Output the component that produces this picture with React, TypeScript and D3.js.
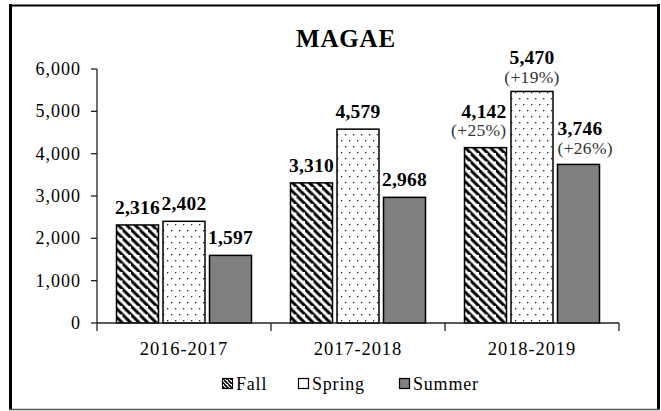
import React from "react";
import * as d3 from "d3";

const categories = ["2016-2017", "2017-2018", "2018-2019"];
const seriesNames = ["Fall", "Spring", "Summer"];
const fallValues = [2316, 3310, 4142];
const springValues = [2402, 4579, 5470];
const summerValues = [1597, 2968, 3746];
const fallPct = [null, null, "(+25%)"];
const springPct = [null, null, "(+19%)"];
const summerPct = [null, null, "(+26%)"];
const yTicks = [0, 1000, 2000, 3000, 4000, 5000, 6000];
const title = "MAGAE";

const FONT = "'Liberation Serif', 'Times New Roman', serif";

export default function App() {
  const W = 661, H = 411;
  const left = 97, right = 619, top = 69, bottom = 323;
  const x0 = d3.scaleBand<string>().domain(categories).range([left, right]).padding(0);
  const bw = x0.bandwidth();
  const x1 = d3.scaleBand<string>().domain(seriesNames)
    .range([bw / 2 - 67.5, bw / 2 + 67.5]).paddingInner(0.097).paddingOuter(0);
  const y = d3.scaleLinear().domain([0, 6000]).range([bottom, top]);
  const fmt = d3.format(",");

  const series = [
    { name: "Fall", values: fallValues, pct: fallPct, fill: "url(#hatch)" },
    { name: "Spring", values: springValues, pct: springPct, fill: "url(#dots)" },
    { name: "Summer", values: summerValues, pct: summerPct, fill: "#808080" },
  ];

  return (
    <svg width={W} height={H} style={{ position: "absolute", left: 0, top: 0 }} fontFamily={FONT}>
      <defs>
        <pattern id="hatch" patternUnits="userSpaceOnUse" width="8.5" height="8.5">
          <rect width="8.5" height="8.5" fill="white" />
          <path d="M-2,-2 L10.5,10.5 M-6.25,2.25 L2.25,10.75 M6.25,-6.25 L14.75,2.25" stroke="black" strokeWidth="2.9" />
        </pattern>
        <pattern id="dots" patternUnits="userSpaceOnUse" width="8" height="12">
          <rect width="8" height="12" fill="white" />
          <rect x="2" y="2" width="1.3" height="1.3" fill="#222" />
          <rect x="6" y="8" width="1.3" height="1.3" fill="#222" />
        </pattern>
        <pattern id="hatchSmall" patternUnits="userSpaceOnUse" width="4" height="4">
          <rect width="4" height="4" fill="white" />
          <path d="M-1,-1 L5,5 M-3,1 L1,5 M3,-3 L7,1" stroke="black" strokeWidth="1.7" />
        </pattern>
      </defs>
      <rect x={0} y={0} width={W} height={H} fill="white" />
      {/* frame */}
      <line x1={10.5} y1={4} x2={10.5} y2={410} stroke="black" strokeWidth={3} />
      <line x1={658.5} y1={4} x2={658.5} y2={410} stroke="black" strokeWidth={3} />
      <line x1={9} y1={5.5} x2={660} y2={5.5} stroke="black" strokeWidth={2} />
      <line x1={9} y1={409.5} x2={660} y2={409.5} stroke="#555" strokeWidth={1.5} />

      <text x={346} y={47} textAnchor="middle" fontWeight="bold" fontSize={25} letterSpacing={0.8}>{title}</text>

      {/* bars */}
      {categories.map((c, ci) => (
        <g key={c} transform={`translate(${x0(c)},0)`}>
          {series.map((s) => {
            const bx = x1(s.name)!;
            const v = s.values[ci];
            const yt = y(v);
            return (
              <rect key={s.name} x={bx} y={yt} width={x1.bandwidth()} height={bottom - yt}
                fill={s.fill} stroke="black" strokeWidth={1.5} />
            );
          })}
        </g>
      ))}

      {/* labels */}
      {categories.map((c, ci) => (
        <g key={c + "l"} transform={`translate(${x0(c)},0)`}>
          {series.map((s, si) => {
            const bx = x1(s.name)!;
            const w = x1.bandwidth();
            const v = s.values[ci];
            const yt = y(v);
            const p = s.pct[ci];
            if (!p) {
              return (
                <text key={s.name} x={bx + w / 2} y={yt - 11} textAnchor="middle" fontWeight="bold" fontSize={19.5} letterSpacing={0.2}>
                  {fmt(v)}
                </text>
              );
            }
            const anchor = si === 0 ? "end" : si === 1 ? "middle" : "start";
            const tx = si === 0 ? bx + w : si === 1 ? bx + w / 2 : bx;
            const off1 = si === 0 ? 30 : si === 1 ? 27 : 29;
            const off2 = si === 0 ? 12 : si === 1 ? 8 : 10;
            return (
              <g key={s.name}>
                <text x={tx} y={yt - off1} textAnchor={anchor} fontWeight="bold" fontSize={19.5} letterSpacing={0.2}>{fmt(v)}</text>
                <text x={tx} y={yt - off2} textAnchor={anchor} fontSize={17.5} fill="#333" letterSpacing={0.3}>{p}</text>
              </g>
            );
          })}
        </g>
      ))}

      {/* y axis */}
      <line x1={left} y1={top} x2={left} y2={bottom} stroke="#222" strokeWidth={1.3} />
      {yTicks.map((t) => (
        <g key={t}>
          <line x1={left - 6} x2={left} y1={y(t)} y2={y(t)} stroke="#222" strokeWidth={1.3} />
          <text x={left - 16} y={y(t) + 6} textAnchor="end" fontSize={18} letterSpacing={1}>{fmt(t)}</text>
        </g>
      ))}

      {/* x axis */}
      <line x1={left} y1={bottom} x2={right} y2={bottom} stroke="#222" strokeWidth={1.3} />
      {[...categories.map((c) => x0(c)!), right].map((xx, i) => (
        <line key={i} x1={xx} x2={xx} y1={bottom} y2={bottom + 8} stroke="#222" strokeWidth={1.3} />
      ))}
      {categories.map((c) => (
        <text key={c} x={x0(c)! + bw / 2} y={355} textAnchor="middle" fontSize={18.5} letterSpacing={0.9}>{c}</text>
      ))}

      {/* legend */}
      {[
        { name: seriesNames[0], x: 222, fill: "url(#hatchSmall)" },
        { name: seriesNames[1], x: 298, fill: "white" },
        { name: seriesNames[2], x: 399, fill: "#808080" },
      ].map((l) => (
        <g key={l.name}>
          <rect x={l.x + 0.5} y={378.5} width={10} height={10} fill={l.fill} stroke="black" strokeWidth={1.2} />
          <text x={l.x + 14} y={390} fontSize={18} letterSpacing={0.8}>{l.name}</text>
        </g>
      ))}
    </svg>
  );
}
